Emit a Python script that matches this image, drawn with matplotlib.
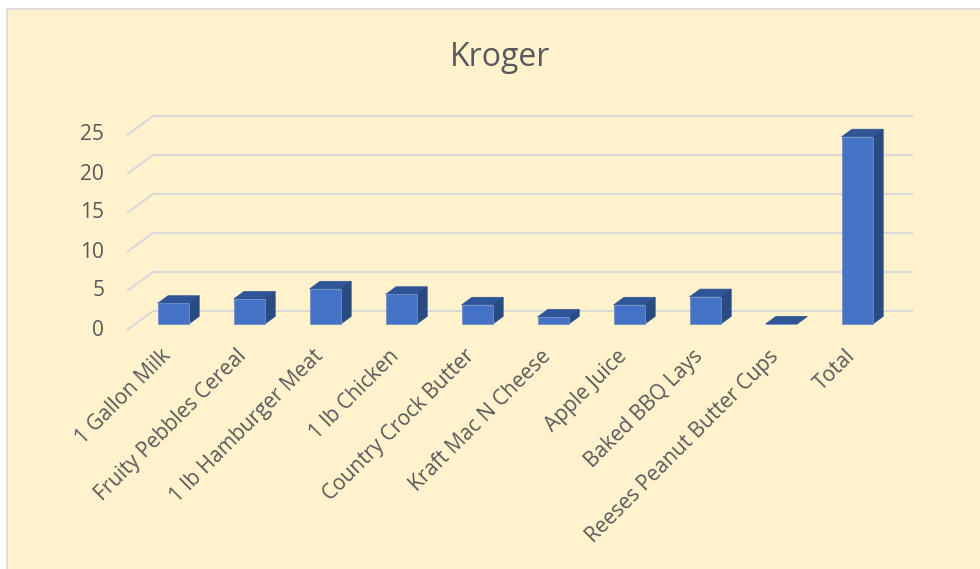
import matplotlib
matplotlib.use("Agg")
import matplotlib.pyplot as plt
from matplotlib.patches import Polygon, Rectangle

# ─── DATA ───────────────────────────────────────────────────────────────────────
categories = ["1 Gallon Milk", "Fruity Pebbles Cereal", "1 lb Hamburger Meat",
              "1 lb Chicken", "Country Crock Butter", "Kraft Mac N Cheese",
              "Apple Juice", "Baked BBQ Lays", "Reeses Peanut Butter Cups", "Total"]
prices = [2.65, 3.2, 4.5, 3.8, 2.45, 0.9, 2.45, 3.5, 0.0, 24.0]
y_ticks = [0, 5, 10, 15, 20, 25]
title = "Kroger"

# ─── LAYOUT (pixels of the 980x569 picture) ─────────────────────────────────────
W, H = 980, 569
X0, Y0 = 127, 330          # front-left corner of the floor
PX_CAT, PX_VAL = 76, 7.8   # pixels per category / per unit value
DX, DY = 26 / PX_CAT, 19 / PX_VAL   # full floor depth offset (data units)
D_FRONT, D_BAR = 0.316, 0.40        # bar front position / bar depth (fraction of floor)
BAR_W = 0.41

BG = "#fff2cc"
GRID = "#d9d9d9"
TXT = "#595959"
FRONT, TOP, SIDE = "#4472c4", "#2f5597", "#2a4a82"
FONT = ["Open Sans", "DejaVu Sans"]

fig = plt.figure(figsize=(W / 100, H / 100), dpi=100, facecolor="white")
ax = fig.add_axes([0, 0, 1, 1])
ax.set_facecolor("none")
ax.set_xlim(-X0 / PX_CAT, (W - X0) / PX_CAT)
ax.set_ylim((Y0 - H) / PX_VAL, Y0 / PX_VAL)
ax.axis("off")
ax.add_patch(Rectangle((7 / W, -0.02), 1.1, 1 - 9 / H + 0.02,
                       transform=fig.transFigure, facecolor=BG,
                       edgecolor=GRID, lw=1.2, zorder=0, clip_on=False))

n = len(categories)

# gridlines: slanted left wall edge + back wall
for v in y_ticks:
    ax.plot([0, DX, n + DX], [v, v + DY, v + DY], color=GRID, lw=1.5,
            solid_capstyle="butt", zorder=1)
    ax.text(-0.30, v, str(v), ha="right", va="center", fontsize=15,
            color=TXT, family=FONT)

# bars: front face via ax.bar, top/side faces as oblique polygons
xs = [i + 0.5 + D_FRONT * DX for i in range(n)]
base = D_FRONT * DY
ax.bar(xs, prices, width=BAR_W, bottom=base, color=FRONT,
       edgecolor="#6d8fd0", lw=0.6, zorder=4)
ddx, ddy = D_BAR * DX, D_BAR * DY
for x, v in zip(xs, prices):
    xl, xr = x - BAR_W / 2, x + BAR_W / 2
    top = base + v
    ax.add_patch(Polygon([(xl, top), (xr, top), (xr + ddx, top + ddy),
                          (xl + ddx, top + ddy)], closed=True,
                         facecolor=TOP, edgecolor=TOP, lw=0.5, zorder=3))
    ax.add_patch(Polygon([(xr, base), (xr + ddx, base + ddy),
                          (xr + ddx, top + ddy), (xr, top)], closed=True,
                         facecolor=SIDE, edgecolor=SIDE, lw=0.5, zorder=3))

# category labels
for x, lab in zip(xs, categories):
    ax.text(x - 0.17, -2.0, lab, rotation=45, ha="right", va="top",
            rotation_mode="anchor", fontsize=15, color=TXT, family=FONT)

fig.text(500 / W, 1 - 66.5 / H, title, ha="center", va="baseline",
         fontsize=23, color=TXT, family=FONT)

fig.savefig("out.png", dpi=100, facecolor=fig.get_facecolor())
